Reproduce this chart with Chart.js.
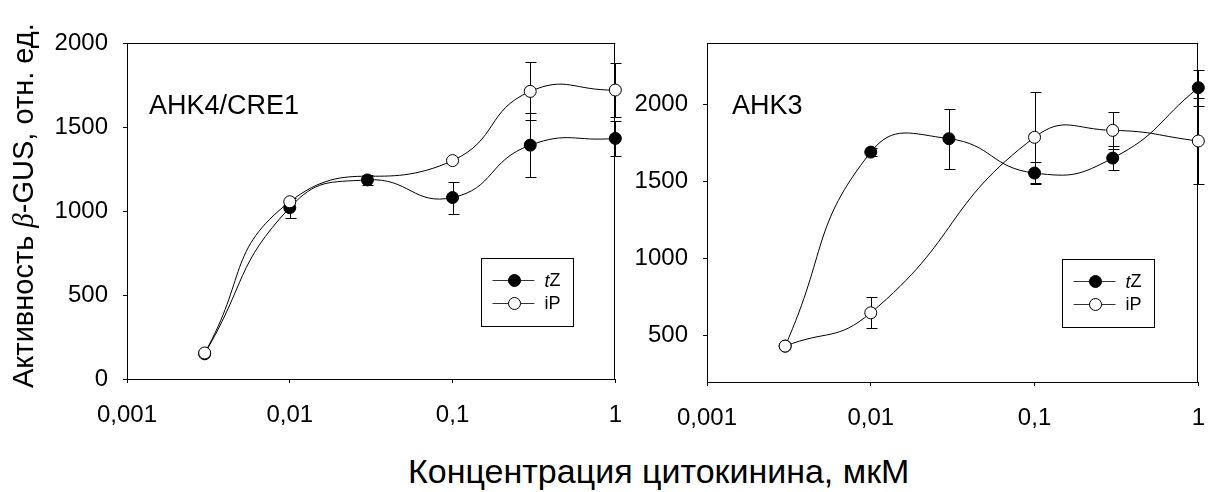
<!DOCTYPE html>
<html>
<head>
<meta charset="utf-8">
<script src="https://cdn.jsdelivr.net/npm/chart.js@4.4.1/dist/chart.umd.min.js"></script>
<style>
  body { margin: 0; background: #fff; width: 1223px; height: 492px; position: relative; overflow: hidden; font-family: "Liberation Sans", Arial, sans-serif; color: #000; }
  .panel { position: absolute; top: 0; height: 440px; }
  #left { left: 0; width: 640px; }
  #right { left: 590px; width: 633px; }
  #xTitle { position: absolute; left: 408px; top: 454px; font-size: 34px; line-height: 34px; white-space: nowrap; }
  #yTitle { position: absolute; left: 9px; top: 388px; font-size: 29px; line-height: 29px; white-space: nowrap; transform-origin: 0 0; transform: rotate(-90deg); }
  #yTitle i { font-family: "Liberation Serif", serif; }
</style>
</head>
<body>
<div class="panel" id="left"><canvas id="ahk4Chart"></canvas></div>
<div class="panel" id="right"><canvas id="ahk3Chart"></canvas></div>
<div id="yTitle">Активность <i>β</i>-GUS, отн. ед.</div>
<div id="xTitle">Концентрация цитокинина, мкМ</div>
<script>
// concentrations, µM
const concentrations = [0.003, 0.01, 0.03, 0.1, 0.3, 1];
const xTickValues = [0.001, 0.01, 0.1, 1];
const ahk4TickValues = [0, 500, 1000, 1500, 2000];
const ahk3TickValues = [500, 1000, 1500, 2000];

// AHK4/CRE1
const ahk4TZ = [150, 1020, 1185, 1080, 1392, 1432];
const ahk4TZErr = [0, 60, 30, 95, 190, 105];
const ahk4IP = [155, 1055, null, 1300, 1712, 1720];
const ahk4IPErr = [0, 0, 0, 0, 172, 162];

// AHK3
const ahk3TZ = [433, 1692, 1779, 1556, 1653, 2110];
const ahk3TZErr = [0, 25, 195, 70, 78, 118];
const ahk3IP = [433, 649, null, 1788, 1833, 1764];
const ahk3IPErr = [0, 100, 0, 295, 122, 280];

const FONT = '"Liberation Sans", Arial, sans-serif';
Chart.defaults.font.family = FONT;
Chart.defaults.color = '#000';

const panelDecor = {
  id: 'panelDecor',
  beforeDatasetsDraw(chart) {
    const { ctx, chartArea: a, scales } = chart;
    ctx.save();
    ctx.strokeStyle = '#000';
    ctx.lineWidth = 1;
    ctx.beginPath();
    ctx.moveTo(a.left, Math.round(a.top) + 0.5);
    ctx.lineTo(a.right, Math.round(a.top) + 0.5);
    ctx.moveTo(Math.round(a.right) - 0.5, a.top);
    ctx.lineTo(Math.round(a.right) - 0.5, a.bottom);
    ctx.stroke();

    // error bars, under the markers
    chart.data.datasets.forEach((ds) => {
      (ds.errors || []).forEach((e, i) => {
        const pt = ds.data[i];
        if (!e || pt.y == null) return;
        const x = Math.round(scales.x.getPixelForValue(pt.x)) + 0.5;
        const y1 = Math.round(scales.y.getPixelForValue(pt.y + e)) + 0.5;
        const y2 = Math.round(scales.y.getPixelForValue(pt.y - e)) + 0.5;
        ctx.beginPath();
        ctx.moveTo(x, y1); ctx.lineTo(x, y2);
        ctx.moveTo(x - 5, y1); ctx.lineTo(x + 6, y1);
        ctx.moveTo(x - 5, y2); ctx.lineTo(x + 6, y2);
        ctx.stroke();
      });
    });
    ctx.restore();
  },
  afterDatasetsDraw(chart, args, opts) {
    const { ctx, chartArea: a } = chart;
    ctx.save();
    ctx.fillStyle = '#000';
    ctx.font = `27px ${FONT}`;
    ctx.textBaseline = 'alphabetic';
    ctx.fillText(opts.label, a.left + opts.labelX, a.top + 71);

    // legend box
    const w = 92, h = 68;
    const left = Math.round(a.right - opts.legendRight - w) + 0.5;
    const top = Math.round(a.bottom - opts.legendBottom - h) + 0.5;
    ctx.fillStyle = '#fff';
    ctx.fillRect(left, top, w, h);
    ctx.strokeStyle = '#000';
    ctx.lineWidth = 1;
    ctx.strokeRect(left, top, w, h);

    const rows = [
      { y: top + 22, fill: '#000', parts: [['italic ', 't'], ['', 'Z']] },
      { y: top + 45, fill: '#fff', parts: [['', 'iP']] }
    ];
    rows.forEach((r) => {
      ctx.strokeStyle = '#333';
      ctx.beginPath();
      ctx.moveTo(left + 11, r.y);
      ctx.lineTo(left + 53, r.y);
      ctx.stroke();
      ctx.beginPath();
      ctx.arc(left + 33, r.y, 6, 0, Math.PI * 2);
      ctx.fillStyle = r.fill;
      ctx.fill();
      ctx.strokeStyle = '#000';
      ctx.stroke();
      ctx.fillStyle = '#000';
      ctx.textBaseline = 'middle';
      let tx = left + 63;
      r.parts.forEach(([style, text]) => {
        ctx.font = `${style}18px ${FONT}`;
        ctx.fillText(text, tx, r.y + 1);
        tx += ctx.measureText(text).width;
      });
    });
    ctx.restore();
  }
};

function seriesData(values) {
  return concentrations.map((x, i) => ({ x, y: values[i] }));
}

function makeDataset(label, values, errors, filled, order) {
  return {
    label,
    data: seriesData(values),
    errors,
    order,
    borderColor: '#000',
    borderWidth: 1,
    backgroundColor: filled ? '#000' : '#fff',
    pointBackgroundColor: filled ? '#000' : '#fff',
    pointBorderColor: '#000',
    pointBorderWidth: 1,
    pointRadius: 6,
    tension: 0.5,
    spanGaps: true,
    clip: false
  };
}

function axisStyle() {
  return {
    grid: { display: true, drawOnChartArea: false, drawTicks: true, tickLength: 4, color: '#000' },
    border: { display: true, color: '#000', width: 1 }
  };
}

function makeChart(canvasId, cfg) {
  return new Chart(document.getElementById(canvasId), {
    type: 'line',
    data: {
      datasets: [
        makeDataset('tZ', cfg.tz, cfg.tzErr, true, 2),
        makeDataset('iP', cfg.ip, cfg.ipErr, false, 1)
      ]
    },
    plugins: [panelDecor],
    options: {
      responsive: true,
      maintainAspectRatio: false,
      animation: false,
      events: [],
      layout: { padding: { top: 43, right: cfg.padRight, left: 0, bottom: 0 } },
      scales: {
        x: {
          type: 'logarithmic',
          min: 0.001,
          max: 1,
          afterBuildTicks: (s) => { s.ticks = xTickValues.map((v) => ({ value: v })); },
          afterFit: (s) => { s.height = cfg.xHeight; },
          ticks: {
            autoSkip: false, maxRotation: 0, padding: 18, color: '#000',
            font: { size: 24 },
            callback: (v) => String(v).replace('.', ',')
          },
          ...axisStyle()
        },
        y: {
          type: 'linear',
          min: cfg.yMin,
          max: cfg.yMax,
          afterBuildTicks: (s) => { s.ticks = cfg.yTicks.map((v) => ({ value: v })); },
          afterFit: (s) => { s.width = cfg.yWidth; },
          ticks: { padding: 15, color: '#000', font: { size: 24 }, callback: (v) => String(v) },
          ...axisStyle()
        }
      },
      plugins: {
        legend: { display: false },
        tooltip: { enabled: false },
        panelDecor: cfg.decor
      }
    }
  });
}

makeChart('ahk4Chart', {
  tz: ahk4TZ, tzErr: ahk4TZErr, ip: ahk4IP, ipErr: ahk4IPErr,
  yMin: 0, yMax: 2000, yTicks: ahk4TickValues,
  yWidth: 127, xHeight: 61, padRight: 23,
  decor: { label: 'AHK4/CRE1', labelX: 22, legendRight: 42, legendBottom: 53 }
});

makeChart('ahk3Chart', {
  tz: ahk3TZ, tzErr: ahk3TZErr, ip: ahk3IP, ipErr: ahk3IPErr,
  yMin: 200, yMax: 2400, yTicks: ahk3TickValues,
  yWidth: 117, xHeight: 58, padRight: 7,
  decor: { label: 'AHK3', labelX: 25, legendRight: 44, legendBottom: 55 }
});
</script>
</body>
</html>
